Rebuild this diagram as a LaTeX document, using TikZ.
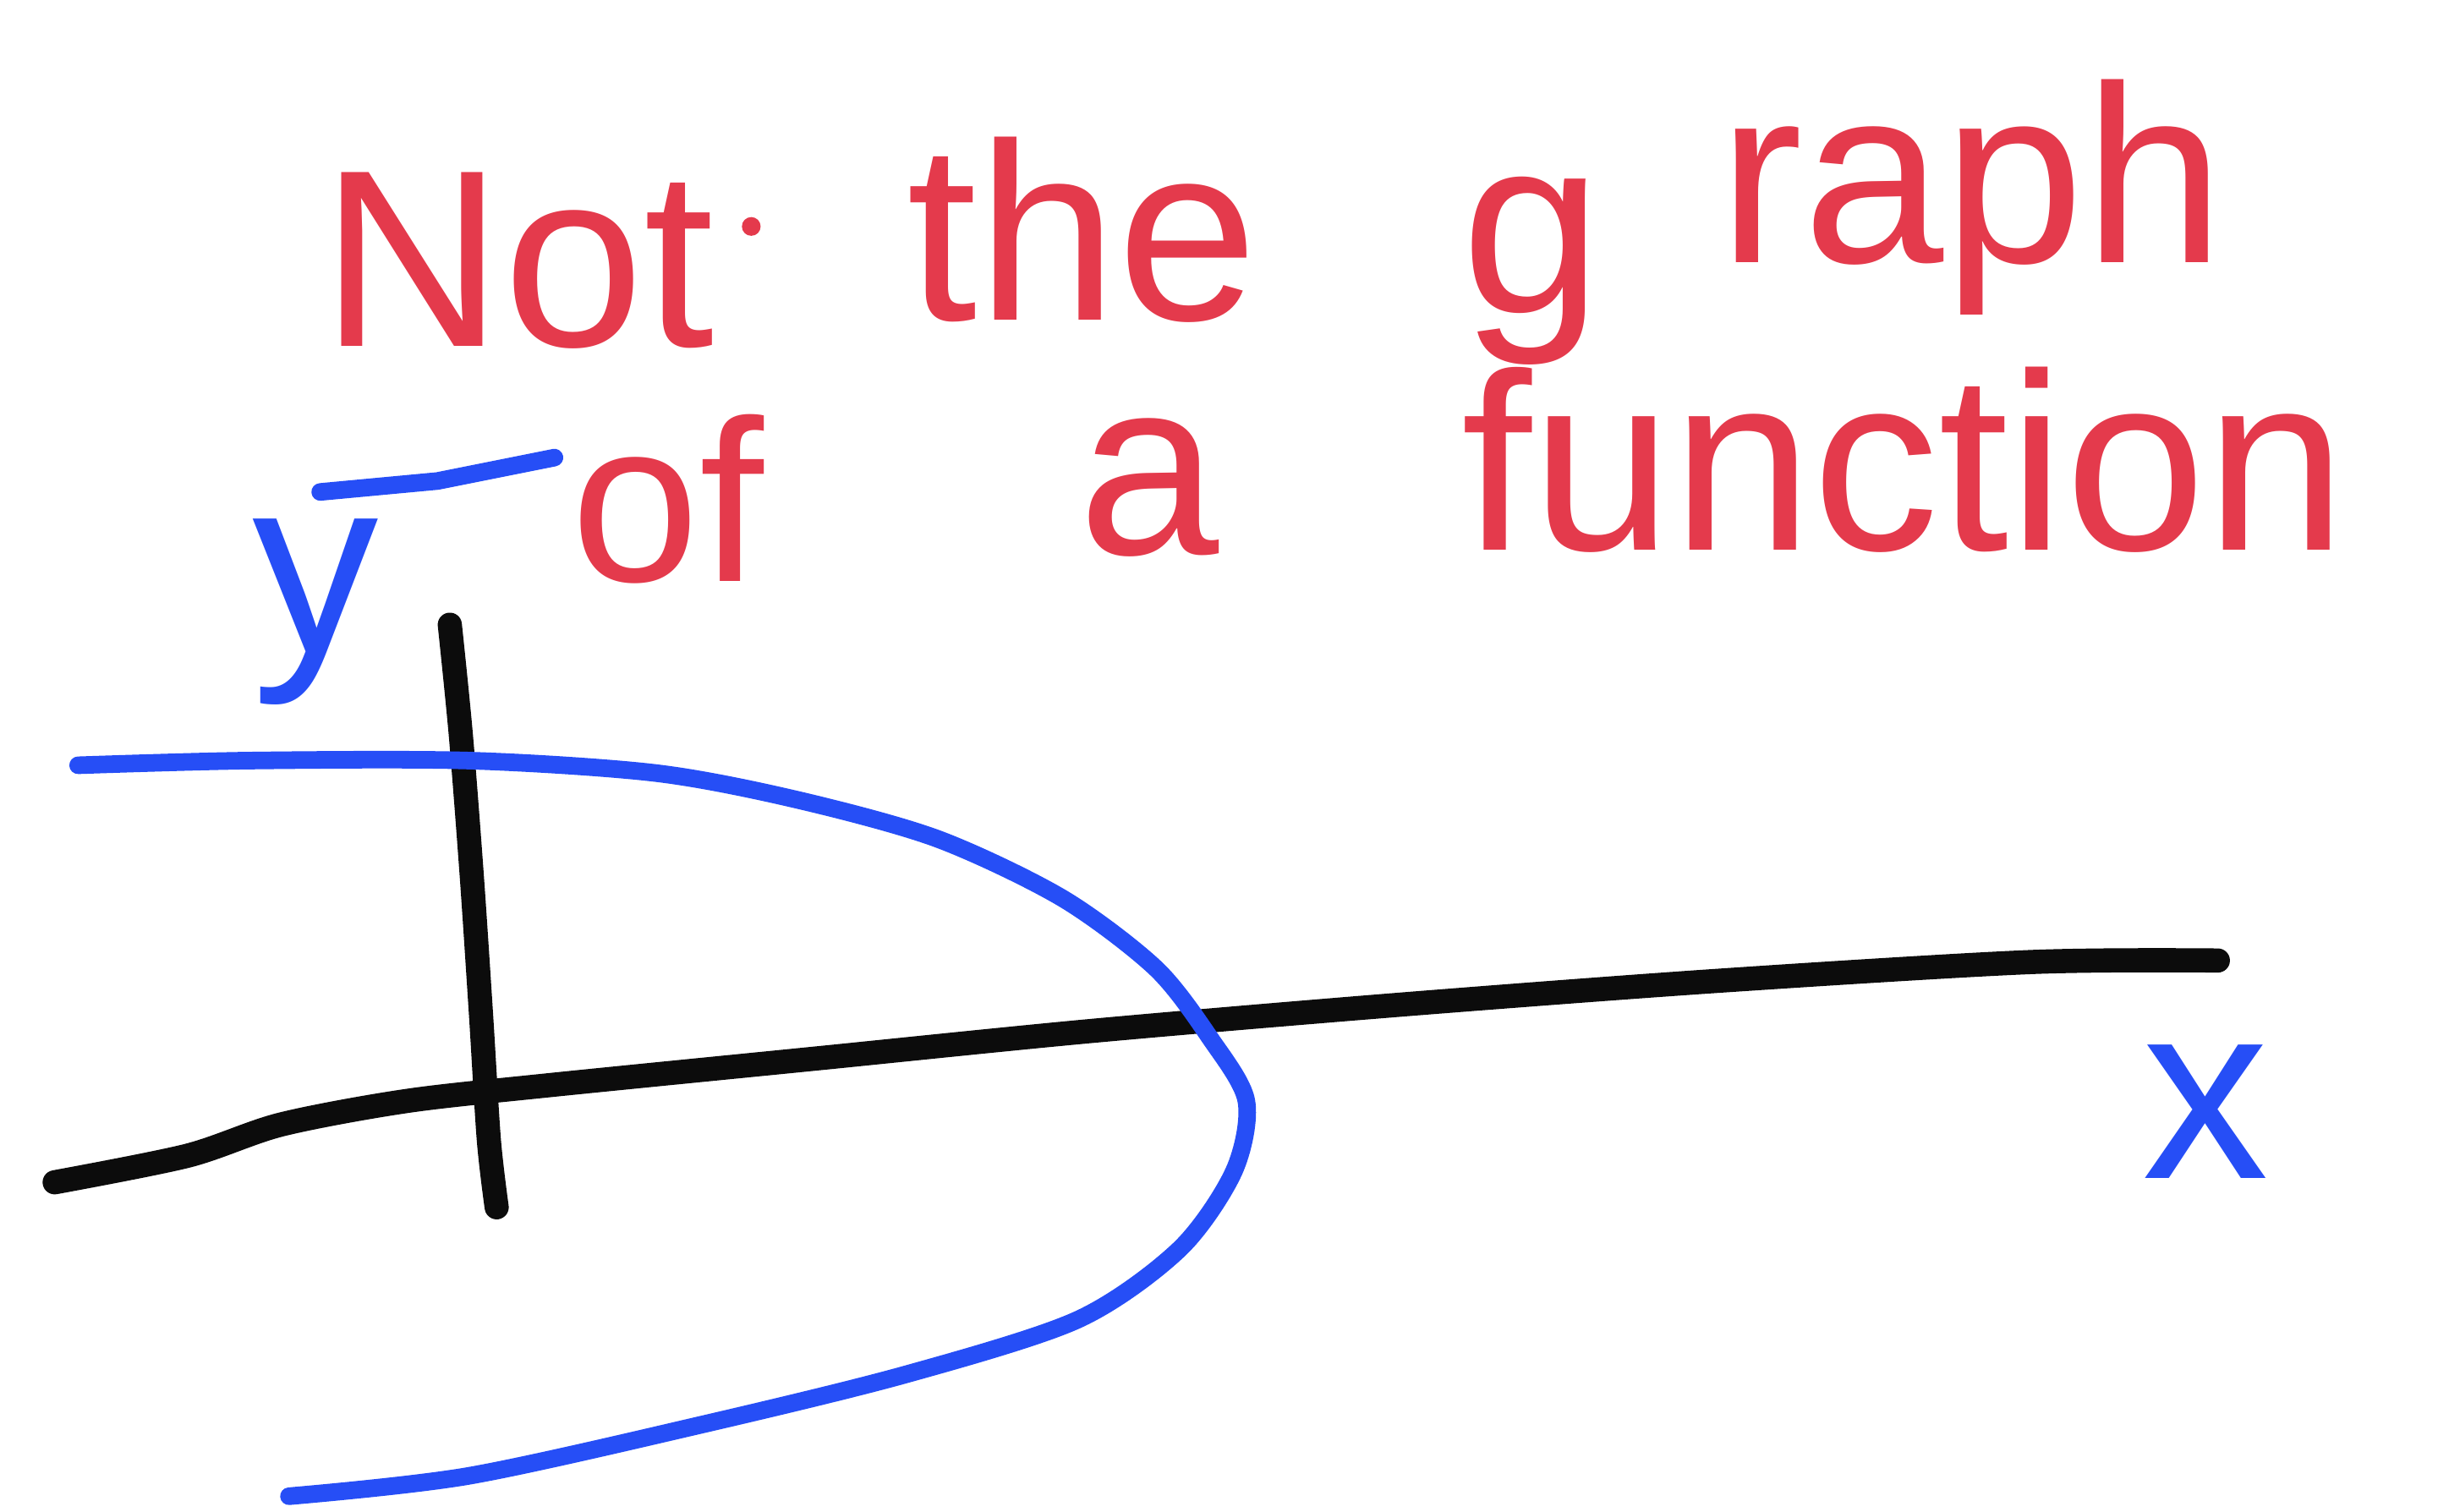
\documentclass[tikz,border=0pt]{standalone}
\usepackage{fontspec}
\setmainfont{Liberation Sans}
\usetikzlibrary{positioning}
\definecolor{inkred}{RGB}{228, 58, 76}
\definecolor{inkblue}{RGB}{38, 78, 246}
\definecolor{inkblack}{RGB}{12, 12, 12}

\begin{document}
\begin{tikzpicture}[
    x=0.01cm, y=-0.01cm,
    note/.style={text=inkred, font=\fontsize{46}{52}\selectfont, inner sep=0pt, anchor=base west},
    label/.style={text=inkblue, font=\fontsize{46}{52}\selectfont, inner sep=0pt},
    axis/.style={draw=inkblack, line width=4.4pt, line cap=round, line join=round},
    curve/.style={draw=inkblue, line width=3.2pt, line cap=round, line join=round}
]
\useasboundingbox (0,0) rectangle (1568,968);

% Title
\node[note] (nt) at (205,222) {Not};
\fill[inkred] (481,145) circle (6);
\node[note] (the) at (580,205) {the};
\node[note] (g) at (935,200) {g};
\node[note] (raph) at (1100,168) {raph};
\node[note, font=\fontsize{42}{48}\selectfont] (of) at (365,372) {of};
\node[note] (a) at (690,355) {a};
\node[note] (fn) at (935,352) {function};
\draw[curve] (205,315) -- (280,308) -- (355,293);

% Axes
\draw[axis] plot[smooth] coordinates {(35,757) (120,740) (180,720) (260,705) (350,695)
    (520,678) (700,660) (900,643) (1100,628) (1300,616) (1420,615)};
\draw[axis] plot[smooth] coordinates {(288,400) (295,470) (302,560) (308,650) (313,730) (318,773)};
\node[label] (ylab) at (202,392) {y};
\node[label] (xlab) at (1412,712) {x};

% Curve
\draw[curve] plot[smooth] coordinates {(50,490) (160,487) (300,487) (420,495) (510,512)
    (600,537) (680,575) (740,620) (775,665) (798,705) (790,750) (755,800) (690,845)
    (580,880) (450,912) (300,945) (185,958)};

\end{tikzpicture}
\end{document}
